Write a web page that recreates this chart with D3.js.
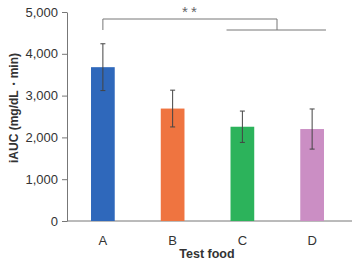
<!DOCTYPE html>
<html>
<head>
<meta charset="utf-8">
<script src="https://cdn.jsdelivr.net/npm/d3@7"></script>
<style>
  body { margin: 0; background: #fff; }
  text { font-family: "Liberation Sans", Arial, sans-serif; }
</style>
</head>
<body>
<div id="chart"></div>
<script>
// data
const FOODS  = ['A', 'B', 'C', 'D']
const IAUC   = [3680, 2690, 2255, 2200]
const ERR    = [560, 440, 375, 480]
const COLORS = ['#2f68bb', '#ef7440', '#2cb35b', '#cb8ec4']
const Y_TICKS = [0, 1000, 2000, 3000, 4000, 5000]

const W = 357, H = 262

const svg = d3.select('#chart').append('svg')
    .attr('width', W)
    .attr('height', H)

const x = d3.scaleBand()
    .domain(FOODS)
    .range([68, 347])
    .paddingInner(0.66)
    .paddingOuter(0.33)

const y = d3.scaleLinear()
    .domain([0, 5000])
    .range([221, 12])

// Y axis
const yAxis = svg.append('g')
    .attr('transform', 'translate(67,0)')
    .call(d3.axisLeft(y).tickValues(Y_TICKS).tickSize(5).tickSizeOuter(0)
        .tickFormat(d3.format(',')))
yAxis.select('.domain').attr('stroke', '#777')
yAxis.selectAll('.tick line').attr('stroke', '#777')
yAxis.selectAll('.tick text')
    .attr('x', -9)
    .attr('fill', '#333')
    .style('font-size', '13px')

// X axis line
svg.append('line')
    .attr('x1', 67).attr('x2', 352)
    .attr('y1', y(0)).attr('y2', y(0))
    .attr('stroke', '#777')

// bars
svg.selectAll('rect.bar')
    .data(FOODS)
    .join('rect')
        .attr('class', 'bar')
        .attr('x', d => x(d))
        .attr('width', x.bandwidth())
        .attr('y', (d, i) => y(IAUC[i]))
        .attr('height', (d, i) => y(0) - y(IAUC[i]))
        .attr('fill', (d, i) => COLORS[i])

// error bars
const eb = svg.selectAll('g.err')
    .data(FOODS)
    .join('g')
        .attr('class', 'err')
        .attr('stroke', '#444')
        .attr('stroke-width', 1)
eb.append('line')
    .attr('x1', d => x(d) + x.bandwidth() / 2)
    .attr('x2', d => x(d) + x.bandwidth() / 2)
    .attr('y1', (d, i) => y(IAUC[i] + ERR[i]))
    .attr('y2', (d, i) => y(IAUC[i] - ERR[i]))
eb.append('line')
    .attr('x1', d => x(d) + x.bandwidth() / 2 - 2.5)
    .attr('x2', d => x(d) + x.bandwidth() / 2 + 2.5)
    .attr('y1', (d, i) => y(IAUC[i] + ERR[i]))
    .attr('y2', (d, i) => y(IAUC[i] + ERR[i]))
eb.append('line')
    .attr('x1', d => x(d) + x.bandwidth() / 2 - 2.5)
    .attr('x2', d => x(d) + x.bandwidth() / 2 + 2.5)
    .attr('y1', (d, i) => y(IAUC[i] - ERR[i]))
    .attr('y2', (d, i) => y(IAUC[i] - ERR[i]))

// category labels
svg.selectAll('text.cat')
    .data(FOODS)
    .join('text')
        .attr('class', 'cat')
        .attr('x', d => x(d) + x.bandwidth() / 2)
        .attr('y', 245)
        .attr('text-anchor', 'middle')
        .attr('fill', '#333')
        .style('font-size', '13px')
        .text(d => d)

// significance bracket: A vs (B..D)
const cx = d => x(d) + x.bandwidth() / 2
const topY = 19, lowY = 30
const rightX = 277
const br = svg.append('g').attr('stroke', '#777').attr('fill', 'none')
br.append('path')
    .attr('d', `M${cx('A')},${lowY}V${topY}H${rightX}V${lowY}`)
br.append('line')
    .attr('x1', x('C') - 4).attr('x2', x('D') + x.bandwidth() + 2)
    .attr('y1', lowY).attr('y2', lowY)
svg.append('text')
    .attr('x', (cx('A') + rightX) / 2 + 1)
    .attr('y', 17)
    .attr('text-anchor', 'middle')
    .attr('fill', '#666')
    .style('font-size', '15px')
    .style('letter-spacing', '3px')
    .text('**')

// axis titles
svg.append('text')
    .attr('transform', 'translate(18,108) rotate(-90)')
    .attr('text-anchor', 'middle')
    .attr('fill', '#333')
    .style('font-size', '12px')
    .style('font-weight', 'bold')
    .text('iAUC (mg/dL・min)')

svg.append('text')
    .attr('x', 207)
    .attr('y', 258)
    .attr('text-anchor', 'middle')
    .attr('fill', '#333')
    .style('font-size', '12.5px')
    .style('font-weight', 'bold')
    .text('Test food')
</script>
</body>
</html>
